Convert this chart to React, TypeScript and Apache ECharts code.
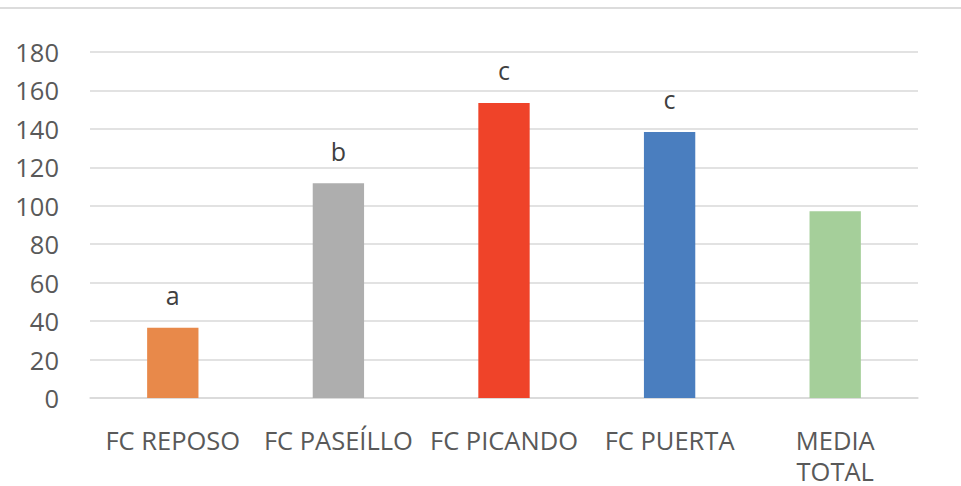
import React, { useEffect, useRef } from "react";
import * as echarts from "echarts";

const categories = ["FC REPOSO", "FC PASEÍLLO", "FC PICANDO", "FC PUERTA", "MEDIA\nTOTAL"];
const values = [36.5, 111.7, 153.5, 138.4, 97.2];
const letters = ["a", "b", "c", "c", ""];
const colors = ["#E8894A", "#AEAEAE", "#EF4329", "#4A7EBF", "#A5CF9A"];
const yTicks = { min: 0, max: 180, interval: 20 };

export default function App() {
  const ref = useRef<HTMLDivElement>(null);
  useEffect(() => {
    document.body.style.margin = "0";
    const chart = echarts.init(ref.current!, undefined, { renderer: "svg" });
    const font = "Open Sans";
    chart.setOption({
      animation: false,
      backgroundColor: "#ffffff",
      grid: {
        left: 90,
        right: 43,
        top: 52,
        bottom: 88,
        containLabel: false,
        outerBoundsMode: "none",
      },
      graphic: [
        {
          type: "line",
          shape: { x1: 0, y1: 8, x2: 961, y2: 8 },
          style: { stroke: "#dcdcdc", lineWidth: 2 },
        },
      ],
      xAxis: {
        type: "category",
        data: categories,
        axisLine: { lineStyle: { color: "#d9d9d9", width: 1.5 } },
        axisTick: { show: false },
        axisLabel: {
          color: "#595959",
          fontSize: 25.5,
          fontFamily: font,
          margin: 26,
          lineHeight: 31,
          interval: 0,
        },
      },
      yAxis: {
        type: "value",
        min: yTicks.min,
        max: yTicks.max,
        interval: yTicks.interval,
        axisLine: { show: false },
        axisTick: { show: false },
        splitLine: { lineStyle: { color: "#d9d9d9", width: 1.5 } },
        axisLabel: { color: "#595959", fontSize: 25.5, fontFamily: font, margin: 31 },
      },
      series: [
        {
          type: "bar",
          barWidth: "31%",
          data: values.map((v, i) => ({ value: v, itemStyle: { color: colors[i] } })),
          label: {
            show: true,
            position: "top",
            distance: 20,
            color: "#404040",
            fontSize: 25,
            fontFamily: font,
            formatter: (p: any) => letters[p.dataIndex],
          },
        },
      ],
    });
    return () => chart.dispose();
  }, []);
  return <div ref={ref} style={{ width: 961, height: 486 }} />;
}
